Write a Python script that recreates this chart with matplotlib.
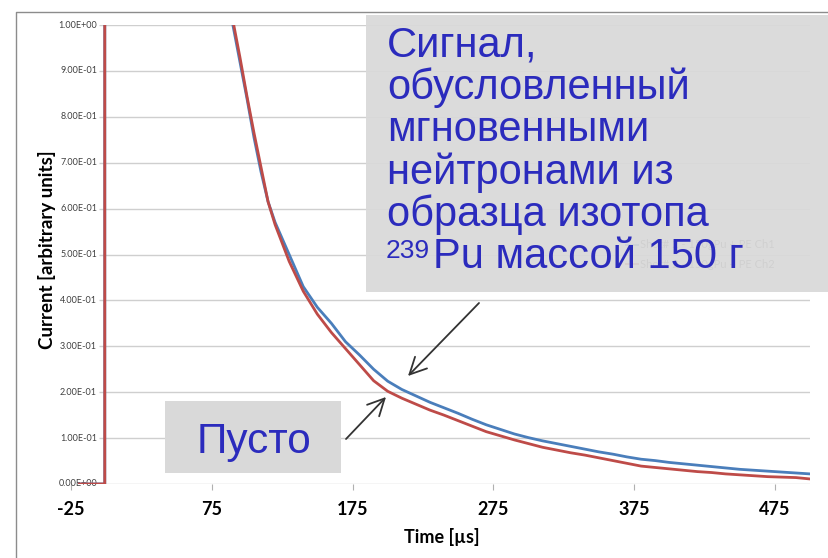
import matplotlib
matplotlib.use('Agg')
import matplotlib.pyplot as plt
from matplotlib.patches import Rectangle, FancyArrowPatch
from matplotlib.lines import Line2D

W, H = 829, 558

# data (time in us, current in arbitrary units)
time_us = [-19, -1, -1, 80, 90, 95, 100, 105, 110, 115, 120, 125, 130, 140, 150,
           160, 170, 180, 190, 200, 210, 220, 230, 240, 250, 260, 270, 280, 290,
           300, 310, 320, 330, 340, 350, 360, 370, 380, 390, 400, 410, 420, 430,
           440, 450, 460, 470, 480, 490, 500]
blue_ch1 = [0, 0, 2.5, 1.12, 1.0, 0.92, 0.84, 0.755, 0.68, 0.615, 0.57, 0.535, 0.50,
            0.43, 0.385, 0.35, 0.31, 0.281, 0.25, 0.224, 0.206, 0.192, 0.178, 0.166,
            0.154, 0.141, 0.129, 0.119, 0.109, 0.101, 0.094, 0.088, 0.082, 0.076,
            0.070, 0.065, 0.059, 0.054, 0.051, 0.047, 0.044, 0.041, 0.038, 0.035,
            0.032, 0.030, 0.028, 0.026, 0.024, 0.022]
red_ch2 = [0, 0, 2.5, 1.12, 1.01, 0.93, 0.845, 0.765, 0.69, 0.615, 0.565, 0.525, 0.485,
           0.42, 0.37, 0.33, 0.295, 0.26, 0.225, 0.202, 0.187, 0.174, 0.161, 0.15,
           0.138, 0.126, 0.114, 0.105, 0.096, 0.088, 0.080, 0.074, 0.068, 0.063,
           0.057, 0.051, 0.045, 0.039, 0.036, 0.033, 0.030, 0.027, 0.025, 0.022,
           0.020, 0.018, 0.016, 0.015, 0.014, 0.011]

x_ticks = [-25, 75, 175, 275, 375, 475]
y_ticks = [0, 0.1, 0.2, 0.3, 0.4, 0.5, 0.6, 0.7, 0.8, 0.9, 1.0]
y_labels = ['0.00E+00', '1.00E-01', '2.00E-01', '3.00E-01', '4.00E-01', '5.00E-01',
            '6.00E-01', '7.00E-01', '8.00E-01', '9.00E-01', '1.00E+00']
legend_labels = ['Shot# 2 - 150gPu + PE Ch1', 'Shot# 2 - 150gPu + PE Ch2']

signal_lines = ['Сигнал,', 'обусловленный', 'мгновенными', 'нейтронами из',
                'образца изотопа']
signal_last = 'Pu массой 150 г'
empty_label = 'Пусто'

BLUE = '#4a7ebb'
RED = '#be4b48'
TXT = '#2b2bbd'


def fx(px):
    return px / W


def fy(py):
    return 1 - py / H


fig = plt.figure(figsize=(W / 100, H / 100), dpi=100)
ax = fig.add_axes([fx(71), fy(484), fx(810) - fx(71), fy(25) - fy(484)])
ax.set_xlim(-25, 500)
ax.set_ylim(0, 1)
for s in ax.spines.values():
    s.set_visible(False)

# gridlines start right of the value labels, like the excel axis
ax.hlines(y_ticks, -5, 500, color='#cfcfcf', lw=1, zorder=1)
ax.set_yticks([])
for v, lab in zip(y_ticks, y_labels):
    ax.text(-6.5, v, lab, ha='right', va='center', fontsize=6.5,
            color='#404040', family='Lato')

ax.set_xticks(x_ticks)
ax.set_xticklabels([str(t) for t in x_ticks], fontsize=13, fontweight='bold',
                   family='Lato')
ax.tick_params(axis='x', direction='out', length=4, color='#b0b0b0', pad=8)

ax.plot(time_us, blue_ch1, color=BLUE, lw=2, zorder=3)
ax.plot(time_us, red_ch2, color=RED, lw=2, zorder=4)

fig.text(fx(442), fy(537), 'Time [µs]', ha='center', va='center', fontsize=13,
         fontweight='bold', family='Lato')
fig.text(fx(47), fy(250), 'Current [arbitrary units]', ha='center', va='center',
         rotation=90, fontsize=13.5, fontweight='bold', family='Lato')

# outer chart frame (cut by the slide)
fig.add_artist(Line2D([fx(16), fx(16), fx(829)], [fy(558), fy(12), fy(12)],
                      color='#8c8c8c', lw=1))

# legend that is hidden under the callout box
for i, (lab, col) in enumerate(zip(legend_labels, [BLUE, RED])):
    yy = 245 + i * 19
    fig.add_artist(Line2D([fx(626), fx(638)], [fy(yy), fy(yy)], color=col, lw=1.5))
    fig.text(fx(640), fy(yy), lab, ha='left', va='center', fontsize=8,
             color='#595959', family='Lato')

# callout boxes
fig.add_artist(Rectangle((fx(366), fy(292)), fx(829) - fx(366), fy(15) - fy(292),
                         transform=fig.transFigure, facecolor='#d9d9d9',
                         edgecolor='none', alpha=0.93, zorder=5))
fig.add_artist(Rectangle((fx(165), fy(473)), fx(341) - fx(165), fy(401) - fy(473),
                         transform=fig.transFigure, facecolor='#d9d9d9',
                         edgecolor='none', zorder=5))

for i, line in enumerate(signal_lines):
    fig.text(fx(387), fy(56.7 + i * 42.3), line, ha='left', va='baseline',
             fontsize=30, color=TXT, family='Liberation Sans', zorder=6)
fig.text(fx(386), fy(258), '239', ha='left', va='baseline', fontsize=19,
         color=TXT, family='Liberation Sans', zorder=6)
fig.text(fx(433), fy(268), signal_last, ha='left', va='baseline', fontsize=30,
         color=TXT, family='Liberation Sans', zorder=6)
fig.text(fx(197), fy(452.7), empty_label, ha='left', va='baseline', fontsize=30.5,
         color=TXT, family='Liberation Sans', zorder=6)

# arrows pointing at the two curves
for (x0, y0), (x1, y1) in [((479, 303), (408, 376)), ((346, 439), (386, 397))]:
    fig.add_artist(FancyArrowPatch((fx(x0), fy(y0)), (fx(x1), fy(y1)),
                                   transform=fig.transFigure,
                                   arrowstyle='->,head_length=0.8,head_width=0.4',
                                   mutation_scale=15, color='#333333', lw=1.3,
                                   shrinkA=0, shrinkB=0, zorder=6))

fig.savefig('out.png', dpi=100)
